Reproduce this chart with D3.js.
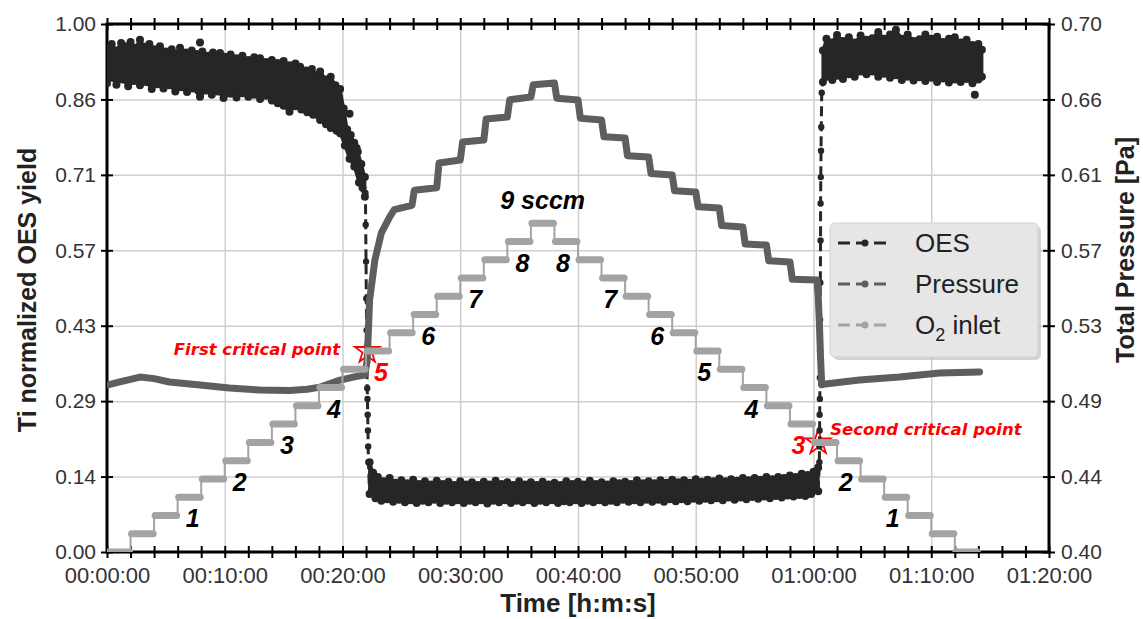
<!DOCTYPE html>
<meta charset="utf-8">
<style>
  body { margin: 0; background: #fff; }
  svg text { font-family: "Liberation Sans", Arial, sans-serif; }
  .axis .domain { display: none; }
  .axis text { fill: #333; font-size: 21px; }
  .axis line { stroke: #000; stroke-width: 2; }
  .grid line { stroke: #cfcfcf; stroke-width: 1.5; }
  .grid .domain { display: none; }
  .note { font-family: "DejaVu Sans", sans-serif; font-weight: bold; font-style: italic; }
</style>

<body>
  <div id="chart"></div>

  <script src="https://d3js.org/d3.v7.min.js"></script>
  <script>
    // time is in minutes everywhere
    var timeTicks = [0, 10, 20, 30, 40, 50, 60, 70, 80];
    var timeTickLabels = ["00:00:00", "00:10:00", "00:20:00", "00:30:00", "00:40:00",
      "00:50:00", "01:00:00", "01:10:00", "01:20:00"];
    var oesTickLabels = ["0.00", "0.14", "0.29", "0.43", "0.57", "0.71", "0.86", "1.00"];
    var pressureTickLabels = ["0.40", "0.44", "0.49", "0.53", "0.57", "0.61", "0.66", "0.70"];

    // O2 inlet set point (sccm), one value per 2 min step
    var o2Time = [0, 2, 4, 6, 8, 10, 12, 14, 16, 18, 20, 22, 24, 26, 28, 30, 32, 34, 36,
      38, 40, 42, 44, 46, 48, 50, 52, 54, 56, 58, 60, 62, 64, 66, 68, 70, 72];
    var o2Sccm = [0, 0.5, 1, 1.5, 2, 2.5, 3, 3.5, 4, 4.5, 5, 5.5, 6, 6.5, 7, 7.5, 8, 8.5, 9,
      8.5, 8, 7.5, 7, 6.5, 6, 5.5, 5, 4.5, 4, 3.5, 3, 2.5, 2, 1.5, 1, 0.5, 0];
    var upLabels = ["1", "2", "3", "4", "5", "6", "7", "8"];
    var downLabels = ["8", "7", "6", "5", "4", "3", "2", "1"];
    var redLabels = {up: "5", down: "3"};

    // total pressure [Pa]
    var pressure = [[0, 0.4949], [1, 0.4965], [2.8, 0.4994], [4, 0.4985], [5.3, 0.4966], [7.9, 0.4949],
      [10.4, 0.4932], [13, 0.4920], [15.5, 0.4918], [17, 0.4925], [18.1, 0.4937], [19.8, 0.4977],
      [21, 0.4995], [21.9, 0.5006], [22.1, 0.509], [22.3, 0.5432], [22.75, 0.5659], [23.3, 0.5813],
      [24, 0.5903], [24.4, 0.5945], [25.9, 0.5970], [26.1, 0.6055], [28, 0.6070], [28.2, 0.6210],
      [30, 0.6227], [30.2, 0.6330], [32, 0.6341], [32.2, 0.6460], [34, 0.6472], [34.2, 0.6570],
      [36, 0.6585], [36.2, 0.6655], [38, 0.6665], [38.2, 0.6578], [40, 0.6568], [40.2, 0.6465],
      [42, 0.6455], [42.2, 0.6360], [44, 0.6352], [44.2, 0.6252], [46, 0.6244], [46.2, 0.6150],
      [48, 0.6142], [48.2, 0.6052], [50, 0.6045], [50.2, 0.5962], [52, 0.5955], [52.2, 0.5855],
      [54, 0.5847], [54.2, 0.5750], [56, 0.5744], [56.2, 0.5655], [58, 0.5648], [58.2, 0.5550],
      [60.3, 0.5545], [60.4, 0.5450], [60.5, 0.5300], [60.6, 0.5100], [60.7, 0.4950], [61, 0.4955],
      [63.9, 0.4977], [67.3, 0.4994], [70.7, 0.5017], [74.1, 0.5023]];

    // Ti OES yield, scatter band read as upper / lower edges
    var oesHighTop = [[0, 0.955], [0.4, 0.962], [0.8, 0.95], [1.2, 0.964], [1.6, 0.958], [2, 0.966],
      [2.4, 0.955], [2.8, 0.97], [3.2, 0.957], [3.6, 0.962], [4, 0.952], [4.5, 0.958], [5, 0.948],
      [5.5, 0.952], [6, 0.944], [6.2, 0.955], [6.7, 0.946], [7.2, 0.95], [7.6, 0.943], [8.1, 0.948],
      [8.6, 0.94], [9, 0.946], [9.6, 0.945], [10, 0.938], [10.5, 0.942], [11, 0.935], [11.5, 0.94],
      [12, 0.932], [12.5, 0.937], [13, 0.935], [13.5, 0.928], [14, 0.932], [14.5, 0.926], [15, 0.93],
      [15.5, 0.922], [16, 0.925], [16.4, 0.919], [16.9, 0.912], [17.4, 0.915], [17.8, 0.903],
      [18.1, 0.91], [18.6, 0.895], [19, 0.9], [19.4, 0.884], [19.8, 0.877], [20.1, 0.84], [20.4, 0.8],
      [20.7, 0.79], [21, 0.775], [21.3, 0.758], [21.6, 0.735], [21.9, 0.71]];
    var oesHighBot = [[0, 0.888], [0.4, 0.898], [0.8, 0.885], [1.3, 0.895], [1.8, 0.882], [2.3, 0.892],
      [2.8, 0.884], [3.3, 0.89], [3.8, 0.877], [4.3, 0.886], [4.8, 0.878], [5.3, 0.884], [5.8, 0.872],
      [6.3, 0.88], [6.8, 0.871], [7.3, 0.878], [7.9, 0.862], [8.4, 0.874], [8.9, 0.866], [9.4, 0.872],
      [9.9, 0.86], [10.5, 0.868], [11, 0.861], [11.5, 0.869], [12, 0.862], [12.5, 0.866], [13, 0.858],
      [13.5, 0.864], [14, 0.855], [14.5, 0.85], [15, 0.845], [15.5, 0.834], [16, 0.844], [16.5, 0.838],
      [17, 0.833], [17.5, 0.828], [18.1, 0.818], [18.6, 0.81], [19, 0.803], [19.5, 0.798],
      [19.8, 0.793], [20.2, 0.77], [20.6, 0.745], [21, 0.73], [21.4, 0.7], [21.9, 0.673]];
    var oesLowTop = [[22.3, 0.17], [22.6, 0.15], [23, 0.142], [23.5, 0.134], [24, 0.14], [24.5, 0.131],
      [25, 0.136], [25.5, 0.13], [26, 0.137], [26.5, 0.129], [27, 0.134], [27.5, 0.128], [28, 0.135],
      [28.5, 0.129], [29, 0.133], [29.5, 0.127], [30, 0.134], [30.5, 0.128], [31, 0.132], [31.5, 0.127],
      [32, 0.133], [32.5, 0.128], [33, 0.135], [33.5, 0.129], [34, 0.132], [34.5, 0.127], [35, 0.134],
      [35.5, 0.128], [36, 0.132], [36.5, 0.127], [37, 0.133], [37.5, 0.128], [38, 0.131], [38.5, 0.127],
      [39, 0.134], [39.5, 0.129], [40, 0.133], [40.5, 0.128], [41, 0.135], [41.5, 0.129], [42, 0.132],
      [42.5, 0.128], [43, 0.134], [43.5, 0.13], [44, 0.133], [44.5, 0.129], [45, 0.136], [45.5, 0.13],
      [46, 0.134], [46.5, 0.13], [47, 0.136], [47.5, 0.131], [48, 0.137], [48.5, 0.132], [49, 0.136],
      [49.5, 0.131], [50, 0.138], [50.5, 0.133], [51, 0.137], [51.5, 0.134], [52, 0.139], [52.5, 0.134],
      [53, 0.138], [53.5, 0.135], [54, 0.14], [54.5, 0.136], [55, 0.14], [55.5, 0.137], [56, 0.142],
      [56.5, 0.138], [57, 0.142], [57.5, 0.14], [58, 0.145], [58.5, 0.142], [59, 0.148], [59.5, 0.146],
      [60, 0.152], [60.4, 0.16]];
    var oesLowBot = [[22.3, 0.11], [22.8, 0.102], [23.3, 0.097], [23.8, 0.1], [24.3, 0.095], [24.8, 0.099],
      [25.3, 0.094], [25.8, 0.098], [26.3, 0.093], [26.8, 0.097], [27.3, 0.094], [27.8, 0.099],
      [28.3, 0.093], [28.8, 0.097], [29.3, 0.094], [29.8, 0.098], [30.3, 0.093], [30.8, 0.097],
      [31.3, 0.094], [31.8, 0.098], [32.3, 0.092], [32.8, 0.097], [33.3, 0.094], [33.8, 0.098],
      [34.3, 0.093], [34.8, 0.097], [35.3, 0.094], [35.8, 0.098], [36.3, 0.093], [36.8, 0.097],
      [37.3, 0.094], [37.8, 0.098], [38.3, 0.093], [38.8, 0.096], [39.3, 0.094], [39.8, 0.098],
      [40.3, 0.093], [40.8, 0.097], [41.3, 0.094], [41.8, 0.098], [42.3, 0.094], [42.8, 0.097],
      [43.3, 0.094], [43.8, 0.099], [44.3, 0.095], [44.8, 0.098], [45.3, 0.094], [45.8, 0.099],
      [46.3, 0.095], [46.8, 0.099], [47.3, 0.095], [47.8, 0.1], [48.3, 0.096], [48.8, 0.1],
      [49.3, 0.096], [49.8, 0.101], [50.3, 0.097], [50.8, 0.101], [51.3, 0.098], [51.8, 0.102],
      [52.3, 0.098], [52.8, 0.103], [53.3, 0.099], [53.8, 0.103], [54.3, 0.1], [54.8, 0.104],
      [55.3, 0.101], [55.8, 0.105], [56.3, 0.102], [56.8, 0.106], [57.3, 0.103], [57.8, 0.107],
      [58.3, 0.105], [58.8, 0.108], [59.3, 0.106], [59.8, 0.11], [60.4, 0.115]];
    var oesEndTop = [[60.8, 0.95], [61.1, 0.972], [61.5, 0.965], [62, 0.979], [62.5, 0.968], [63, 0.975],
      [63.5, 0.965], [64, 0.978], [64.5, 0.97], [65, 0.973], [65.5, 0.985], [66, 0.972], [66.5, 0.98],
      [67, 0.989], [67.5, 0.972], [68, 0.98], [68.5, 0.968], [69, 0.971], [69.5, 0.98], [70, 0.972],
      [70.5, 0.976], [71, 0.966], [71.5, 0.972], [72, 0.975], [72.5, 0.965], [73, 0.97], [73.5, 0.96],
      [74, 0.962], [74.3, 0.951]];
    var oesEndBot = [[60.8, 0.89], [61.2, 0.9], [61.6, 0.894], [62, 0.902], [62.5, 0.896], [63, 0.905],
      [63.5, 0.9], [64, 0.91], [64.5, 0.905], [65, 0.91], [65.5, 0.9], [66, 0.906], [66.5, 0.898],
      [67, 0.903], [67.5, 0.894], [68, 0.9], [68.5, 0.893], [69, 0.899], [69.5, 0.892], [70, 0.898],
      [70.5, 0.89], [71, 0.897], [71.5, 0.889], [72, 0.895], [72.5, 0.89], [73, 0.896], [73.5, 0.888],
      [74, 0.895], [74.3, 0.9]];
    var oesOutliers = [[73.7, 0.866], [7.9, 0.965], [20.6, 0.83], [21.2, 0.765], [21.7, 0.69]];
    // sparse points on the two jumps
    var oesDrop = [[21.95, 0.68], [21.97, 0.62], [22, 0.55], [22.02, 0.48], [22.05, 0.42], [22.08, 0.36],
      [22.1, 0.31], [22.12, 0.29], [22.14, 0.26], [22.16, 0.23], [22.18, 0.2], [22.2, 0.17]];
    var oesRise = [[60.5, 0.17], [60.5, 0.2], [60.52, 0.23], [60.52, 0.26], [60.54, 0.29], [60.54, 0.33],
      [60.56, 0.38], [60.56, 0.44], [60.58, 0.51], [60.6, 0.59], [60.6, 0.66], [60.62, 0.71],
      [60.64, 0.76], [60.66, 0.805], [60.7, 0.87]];

    var critical = [
      {name: "First critical point", t: 22.1, sccm: 5.5},
      {name: "Second critical point", t: 60.4, sccm: 3}
    ];

    var colOes = "#262626", colP = "#5e5e5e", colO2 = "#a3a3a3";

    var margin = {top: 24, right: 94, bottom: 67, left: 107};
    var width = 1143 - margin.left - margin.right;
    var height = 619 - margin.top - margin.bottom;

    var root = d3.select("#chart").append("svg")
      .attr("width", 1143)
      .attr("height", 619);
    var svg = root.append("g")
      .attr("transform", "translate(" + margin.left + "," + margin.top + ")");

    var x = d3.scaleLinear().domain([0, 80]).range([0, width]);
    var yOes = d3.scaleLinear().domain([0, 1]).range([height, 0]);
    var yP = d3.scaleLinear().domain([0.4, 0.7]).range([height, 0]);
    var yO2 = d3.scaleLinear().domain([0, 14.45]).range([height, 0]);

    var oesTicks = oesTickLabels.map(function (d, i) { return i / 7; });
    var pTicks = pressureTickLabels.map(function (d, i) { return 0.4 + 0.3 * i / 7; });
    var minorTicks = d3.range(0, 81, 2);

    root.append("defs").append("clipPath").attr("id", "clip")
      .append("rect").attr("x", margin.left).attr("y", margin.top)
      .attr("width", width).attr("height", height);

    // grid
    svg.append("g").attr("class", "grid")
      .attr("transform", "translate(0," + height + ")")
      .call(d3.axisBottom(x).tickValues(timeTicks).tickSize(-height).tickFormat(""));
    svg.append("g").attr("class", "grid")
      .call(d3.axisLeft(yOes).tickValues(oesTicks).tickSize(-width).tickFormat(""));

    var plot = root.append("g").attr("clip-path", "url(#clip)")
      .append("g").attr("transform", "translate(" + margin.left + "," + margin.top + ")");

    // OES band
    var band = d3.line().x(function (d) { return x(d[0]); }).y(function (d) { return yOes(d[1]); })
      .curve(d3.curveLinearClosed);
    [[oesHighTop, oesHighBot], [oesLowTop, oesLowBot], [oesEndTop, oesEndBot]].forEach(function (s) {
      var poly = s[0].concat(s[1].slice().reverse());
      plot.append("path").attr("d", band(poly))
        .attr("fill", colOes).attr("stroke", colOes)
        .attr("stroke-width", 3).attr("stroke-linejoin", "round");
      plot.selectAll(null).data(s[0].concat(s[1])).enter().append("circle")
        .attr("cx", function (d) { return x(d[0]); })
        .attr("cy", function (d) { return yOes(d[1]); })
        .attr("r", 4).attr("fill", colOes);
    });
    plot.selectAll(null).data(oesOutliers).enter().append("circle")
      .attr("cx", function (d) { return x(d[0]); })
      .attr("cy", function (d) { return yOes(d[1]); })
      .attr("r", 4).attr("fill", colOes);

    var plain = d3.line().x(function (d) { return x(d[0]); }).y(function (d) { return yOes(d[1]); });
    [[[21.9, 0.673]].concat(oesDrop, [[22.3, 0.11]]), [[60.4, 0.115]].concat(oesRise, [[60.8, 0.89]])]
      .forEach(function (seg) {
        plot.append("path").attr("d", plain(seg))
          .attr("fill", "none").attr("stroke", colOes)
          .attr("stroke-width", 3).attr("stroke-dasharray", "10,5");
      });
    plot.selectAll(null).data(oesDrop.concat(oesRise)).enter().append("circle")
      .attr("cx", function (d) { return x(d[0]); })
      .attr("cy", function (d) { return yOes(d[1]); })
      .attr("r", 3.2).attr("fill", colOes);

    // pressure
    plot.append("path")
      .attr("d", d3.line().x(function (d) { return x(d[0]); }).y(function (d) { return yP(d[1]); })(pressure))
      .attr("fill", "none").attr("stroke", colP).attr("stroke-width", 7)
      .attr("stroke-linejoin", "round").attr("stroke-linecap", "round");

    // O2 inlet
    var o2 = o2Time.map(function (t, i) { return [t, o2Sccm[i]]; });
    plot.append("path")
      .attr("d", d3.line().x(function (d) { return x(d[0]); }).y(function (d) { return yO2(d[1]); })
        .curve(d3.curveStepAfter)(o2.concat([[74, 0]])))
      .attr("fill", "none").attr("stroke", colO2).attr("stroke-width", 2);
    plot.selectAll(null).data(o2).enter().append("line")
      .attr("x1", function (d) { return x(d[0]) + 1; })
      .attr("x2", function (d) { return x(d[0] + 2) - 1; })
      .attr("y1", function (d) { return yO2(d[1]); })
      .attr("y2", function (d) { return yO2(d[1]); })
      .attr("stroke", colO2).attr("stroke-width", 7).attr("stroke-linecap", "round");

    // frame, ticks
    svg.append("rect").attr("width", width).attr("height", height)
      .attr("fill", "none").attr("stroke", "#000").attr("stroke-width", 3);

    var ax = svg.append("g").attr("class", "axis").attr("transform", "translate(0," + height + ")")
      .call(d3.axisBottom(x).tickValues(minorTicks).tickSize(6).tickPadding(9)
        .tickFormat(function (d) { var i = timeTicks.indexOf(d); return i < 0 ? "" : timeTickLabels[i]; }));
    ax.selectAll("line").attr("y1", -6);
    ax.selectAll("text").style("font-size", "22px");
    svg.append("g").attr("class", "axis")
      .call(d3.axisTop(x).tickValues(minorTicks).tickSize(6).tickFormat(""))
      .selectAll("line").attr("y1", 6);

    var al = svg.append("g").attr("class", "axis")
      .call(d3.axisLeft(yOes).tickValues(oesTicks).tickSize(6).tickPadding(5)
        .tickFormat(function (d, i) { return oesTickLabels[i]; }));
    al.selectAll("line").attr("x1", 6);
    var ar = svg.append("g").attr("class", "axis").attr("transform", "translate(" + width + ",0)")
      .call(d3.axisRight(yP).tickValues(pTicks).tickSize(6).tickPadding(6)
        .tickFormat(function (d, i) { return pressureTickLabels[i]; }));
    ar.selectAll("line").attr("x1", -6);

    // axis titles
    svg.append("text").attr("x", width / 2).attr("y", height + 60)
      .attr("text-anchor", "middle").style("font-size", "26px").style("font-weight", "bold")
      .attr("fill", "#222").text("Time [h:m:s]");
    svg.append("text").attr("transform", "translate(" + (-80) + "," + (height / 2 + 2) + ") rotate(-90)")
      .attr("text-anchor", "middle").attr("dy", "0.35em").style("font-size", "25px").style("font-weight", "bold")
      .attr("fill", "#222").text("Ti normalized OES yield");
    svg.append("text").attr("transform", "translate(" + (width + 76) + "," + 226 + ") rotate(-90)")
      .attr("text-anchor", "middle").attr("dy", "0.35em").style("font-size", "25px").style("font-weight", "bold")
      .attr("fill", "#222").text("Total Pressure [Pa]");

    // step labels
    var notes = svg.append("g").attr("class", "note").style("font-size", "25px");
    upLabels.forEach(function (s) {
      var v = +s;
      notes.append("text").attr("x", x(4 * v + 2) + 15).attr("y", yO2(v) + 12)
        .attr("text-anchor", "middle").attr("fill", s === redLabels.up ? "red" : "#000").text(s);
    });
    downLabels.forEach(function (s) {
      var v = +s;
      notes.append("text").attr("x", x(72 - 4 * v) - 15).attr("y", yO2(v) + 12)
        .attr("text-anchor", "middle").attr("fill", s === redLabels.down ? "red" : "#000").text(s);
    });
    notes.append("text").attr("x", x(37)).attr("y", yO2(9) - 14)
      .attr("text-anchor", "middle").attr("fill", "#000").text("9 sccm");

    // critical points
    var star = d3.symbol().type(d3.symbolStar).size(190);
    critical.forEach(function (c, i) {
      var cx = x(c.t), cy = yO2(c.sccm);
      svg.append("path").attr("d", star).attr("transform", "translate(" + cx + "," + cy + ")")
        .attr("fill", "none").attr("stroke", "red").attr("stroke-width", 1.8);
      svg.append("text").attr("class", "note").style("font-size", "16.5px").attr("fill", "red")
        .attr("x", i === 0 ? cx - 27 : cx + 12).attr("y", i === 0 ? cy + 4 : cy - 7)
        .attr("text-anchor", i === 0 ? "end" : "start").text(c.name);
    });

    // legend
    var lg = root.append("g").attr("transform", "translate(830,223)");
    lg.append("rect").attr("x", 3).attr("y", 3).attr("width", 208).attr("height", 134).attr("rx", 5)
      .attr("fill", "#b8b8b8").attr("opacity", 0.6);
    lg.append("rect").attr("width", 208).attr("height", 134).attr("rx", 5)
      .attr("fill", "#e6e6e6").attr("stroke", "#d2d2d2");
    var items = [["OES", colOes], ["Pressure", colP], ["O2 inlet", colO2]];
    items.forEach(function (it, i) {
      var yy = 20 + i * 41;
      lg.append("line").attr("x1", 8).attr("x2", 62).attr("y1", yy).attr("y2", yy)
        .attr("stroke", it[1]).attr("stroke-width", 3).attr("stroke-dasharray", "12,6");
      lg.append("circle").attr("cx", 35).attr("cy", yy).attr("r", 3.5).attr("fill", it[1]);
      var t = lg.append("text").attr("x", 85).attr("y", yy + 9).style("font-size", "26px").attr("fill", "#222");
      if (i === 2) {
        t.append("tspan").text("O");
        t.append("tspan").attr("dy", 7).style("font-size", "18px").text("2");
        t.append("tspan").attr("dy", -7).text(" inlet");
      } else {
        t.text(it[0]);
      }
    });
  </script>
</body>
